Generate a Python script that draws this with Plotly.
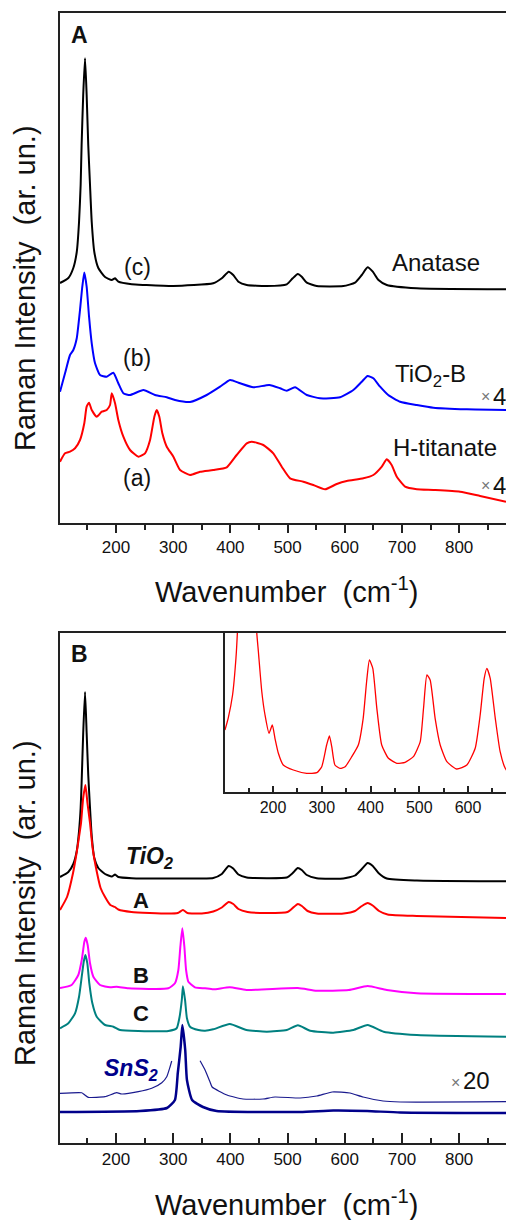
import plotly.graph_objects as go

W, H = 506, 1220
FONT = "Liberation Sans, Arial, Helvetica, sans-serif"

# ---------------- Panel A: anatase precursor and hydrothermal products ----------------
anatase_wn = [102, 116.6, 125.3, 131.3, 135.3, 138.1, 139.8, 142.6, 145.8, 148.6, 151.4, 154.5,
              157.5, 162, 169, 180.8, 192.5, 198.3, 204, 227.5, 250.7, 300, 370, 385, 397, 405,
              414, 428.6, 463.6, 498.6, 509, 517.8, 524.8, 533.6, 551, 597.6, 618, 629.8, 640,
              649, 659, 673.5, 726, 882]
anatase_int = [240, 245, 255, 271, 301, 338, 378, 428, 464.7, 428, 378, 338,
               301, 271, 255, 246, 243, 244.7, 241.3, 238.7, 238, 237, 239.7, 244.7, 251.3, 248,
               241.3, 238, 237, 238.7, 244.7, 249, 246.3, 240.3, 237, 237, 240.3, 248, 255.7,
               251.3, 243, 238, 234.7, 233.7]

tio2b_wn = [102, 110.8, 119.5, 125.3, 131.3, 137, 141, 144.5, 148.6, 152.8, 157.5, 163.3, 172,
            183.7, 195.3, 204, 212.8, 224.5, 247.8, 268.2, 288.7, 303.2, 329.4, 358.6, 382, 399.4,
            417, 440, 468, 487, 498.6, 513, 533.6, 556.8, 591.8, 615, 629.8, 640, 650, 661.8,
            676, 696.8, 726, 755, 813.5, 882]
tio2b_int = [131.3, 149.7, 168, 173, 184.7, 213, 236.3, 250.5, 236.3, 206.3, 179.7, 159.7, 148,
             146.3, 150.3, 139.7, 129.7, 128, 133, 128, 125.7, 123, 121, 128, 136.3, 143,
             139.7, 135.7, 138, 134.7, 132.3, 135.7, 128, 124.7, 125.7, 133, 141.3, 147, 144.7, 136.3,
             128, 121.3, 118, 115.3, 113.7, 113]

htit_wn = [102, 110.8, 119.5, 128.3, 137, 144.5, 148.6, 152.8, 157.5, 166.2, 175, 183.7, 189.5,
           192.5, 198.3, 204, 212.8, 224.5, 239, 250.7, 259.5, 267, 271.2, 275.7, 281, 288.7,
           300.3, 312, 329.4, 347, 370, 393.6, 411, 428.6, 437.3, 457.6, 475, 489.8, 504.4,
           527.6, 545, 565.6, 586, 603.5, 632.6, 650, 664.8, 673.5, 682, 691, 705.5, 726, 755,
           801.7, 836.7, 882]
htit_int = [61.3, 69.7, 71.3, 74.7, 83, 99.7, 116.3, 120.3, 113, 106.3, 111.3, 113, 118,
            129.7, 119.7, 103, 86.3, 73, 66.3, 69.7, 83, 106.3, 113, 106.3, 89.7, 76.3,
            66.3, 53, 48, 51.3, 53, 55.7, 68, 79.7, 81.3, 78, 69.7, 56.3, 44.7,
            41.3, 38, 33.7, 39, 42, 44.7, 48, 56.3, 63.7, 58, 46.3, 36.3, 33.7, 33,
            31.3, 27, 21.3]

# ---------------- Panel B: TiO2 reference, samples A-C and SnS2 ----------------
tio2_wn = [102, 116.6, 125.3, 131.3, 135.3, 138.1, 139.8, 142.6, 145.8, 148.6, 151.4, 154.5,
           157.5, 162, 169, 180.8, 192.5, 198.3, 204, 227.5, 300, 370, 385, 397, 405, 414,
           428.6, 463.6, 498.6, 509, 517.8, 524.8, 533.6, 551, 597.6, 618, 629.8, 640, 649,
           659, 673.5, 726, 882]
tio2_int = [266, 271, 279, 292, 312, 335, 360, 410, 451, 410, 368, 335,
            307, 285, 275, 269, 266.5, 268.5, 266, 264.8, 264.5, 265, 269, 277, 274.5, 268.5,
            265.5, 264.8, 265.5, 270, 275, 273, 268, 264.8, 264.5, 267.5, 274, 280, 277,
            270, 264.5, 262.5, 261.7]

sampA_wn = [102, 114.3, 124.8, 131, 135, 138.8, 142.5, 146.5, 150, 154.5, 159, 166.8, 173,
            180.8, 190, 198, 204, 227, 290, 308, 317, 325, 350, 370, 385, 397, 405, 414, 430,
            465, 500, 509, 518, 525, 535, 551, 598, 618, 630, 640, 650, 660, 675, 726, 882]
sampA_int = [233, 246, 270, 290, 305, 320, 345, 358, 340, 320, 295, 270, 255,
             246, 238, 236, 233.5, 231, 229.5, 230, 233, 230, 229.5, 231.5, 235.5, 241, 239, 234, 231,
             230, 231, 235, 239, 237, 232, 229.5, 229.5, 232, 237, 240, 237, 232, 228.5, 227, 225]

sampB_wn = [102, 122.3, 134, 140, 144.6, 147, 150.4, 154.5, 160.3, 172, 189.5, 201, 221.5,
            291.5, 303, 309, 312.5, 316, 319.5, 322.5, 326.5, 338, 355.7, 370, 399, 428, 518,
            551, 607, 640, 673.5, 726, 882]
sampB_int = [155, 158, 168, 183, 201.3, 205.3, 198, 179.7, 166.3, 158, 155.7, 156.3, 154.7,
             154.7, 159.7, 173, 196.3, 214.7, 196.3, 173, 161.3, 155.7, 154.7, 153.7, 155.7, 153, 155,
             152.3, 153, 157, 153, 149.7, 149]

sampC_wn = [102, 116.6, 128.3, 135.3, 140, 143.5, 146.3, 149.8, 153.3, 158.6, 166.2, 180.8,
            195.3, 207, 239, 291.5, 306, 310.7, 315, 317, 320.7, 324, 329.4, 344, 355.7, 370,
            399, 428, 463.6, 498.6, 518, 539.5, 580, 615, 640, 668, 726, 882]
sampC_int = [114.7, 119.7, 129.7, 146.3, 166.3, 181.3, 188, 179.7, 159.7, 139.7, 126.3, 118,
             116.3, 113, 112, 112, 114.7, 124.7, 143, 156.7, 143, 124.7, 116.3, 113, 112.3, 113.7,
             119, 113, 111.3, 113, 117.7, 112.3, 110.3, 113, 118, 111.3, 108, 106.3]

sns2_wn = [102, 242, 289, 303, 308, 313, 316, 321, 324, 333, 352, 376, 522, 580, 639, 697, 882]
sns2_int = [31, 32, 35, 43, 70, 96, 118, 93, 63, 43, 36, 32, 31, 32.5, 32, 30.5, 30]

# SnS2 magnified x20 (the saturated main band is left out)
sns2x20_wn = [102, 140, 144, 151.4, 180.8, 201, 210, 239, 262.4, 280, 288.7, 294.5, 297.4,
              None, 347, 355.7, 364.4, 368, 394, 422, 457, 478, 522, 551, 578, 609, 632, 667,
              697, 882]
sns2x20_int = [49.7, 50.3, 48.7, 45.7, 46.3, 50.3, 49, 51.3, 54.7, 60.3, 66.3, 76.3, 82,
               None, 82.3, 73, 61, 56, 48, 44, 44, 46, 45, 47, 51, 50, 46, 42,
               41, 41.3]

# Inset: sample A, low-intensity region
inset_wn = [101.4, 108, 117, 124, 127, 135, 146, 157, 166.5, 170, 177, 183.6, 191.8, 198.6, 204,
            211, 221, 241.7, 269, 290, 300, 310, 315.7, 320.5, 327, 337.6, 348, 361.6, 375,
            385, 392, 397.8, 404.7, 413, 423, 436.8, 454, 471, 488, 502, 508.8, 515.7, 522.4,
            532.6, 543, 556.7, 577, 597.7, 614.8, 625, 633.3, 638.8, 645.6, 656, 666, 676.4, 690]
inset_int = [62, 73.7, 97, 134, 160.3, 260, 420, 260, 160.3, 140.3, 100.3, 77, 58.7, 67, 53.7,
             38.7, 27, 22, 18.7, 19.3, 25.3, 47, 56, 45.3, 27, 23.7, 25.3, 35.3, 47,
             73.7, 110.3, 132, 123.7, 83.7, 47, 33.7, 28.7, 29.7, 35.3, 50.3, 83.7, 117, 112,
             73.7, 47, 30.3, 23, 27, 43.7, 77, 113.7, 123.7, 113.7, 73.7, 40.3, 23.7, 15]

XTICKS = [200, 300, 400, 500, 600, 700, 800]
INSET_TICKS = [200, 300, 400, 500, 600]


def xp(v):
    return v / W


def yp(v):
    return 1 - v / H


fig = go.Figure()


def spectrum(x, y, color, width, xa, ya):
    fig.add_trace(go.Scatter(x=x, y=y, mode="lines", xaxis=xa, yaxis=ya,
                             line=dict(color=color, width=width, shape="spline", smoothing=0.5),
                             connectgaps=False, showlegend=False, hoverinfo="skip"))


spectrum(anatase_wn, anatase_int, "#000000", 2, "x", "y")
spectrum(tio2b_wn, tio2b_int, "#0000ff", 2, "x", "y")
spectrum(htit_wn, htit_int, "#ff0000", 2, "x", "y")

spectrum(tio2_wn, tio2_int, "#000000", 2, "x2", "y2")
spectrum(sampA_wn, sampA_int, "#ff0000", 2, "x2", "y2")
spectrum(sampB_wn, sampB_int, "#ff00ff", 2, "x2", "y2")
spectrum(sampC_wn, sampC_int, "#008080", 2, "x2", "y2")
spectrum(sns2x20_wn, sns2x20_int, "#1a1a8e", 1.2, "x2", "y2")
spectrum(sns2_wn, sns2_int, "#00008b", 2.5, "x2", "y2")

spectrum(inset_wn, inset_int, "#ff0000", 1.3, "x3", "y3")

AX = "#222222"
tickfont = dict(family=FONT, size=17, color="#111111")


def xaxis(domain, ticks, ticklen, minorlen, rng, tickvals, font):
    return dict(domain=domain, range=rng, showline=True, linecolor=AX, linewidth=1.5,
                mirror=True, ticks=ticks, ticklen=ticklen, tickwidth=1.5, tickcolor=AX,
                tickvals=tickvals, ticktext=[str(t) for t in tickvals],
                minor=dict(tickvals=[t + 50 for t in [100] + tickvals], ticks=ticks,
                           ticklen=minorlen, tickwidth=1.5, tickcolor=AX),
                showgrid=False, zeroline=False, tickfont=font, fixedrange=True)


def yaxis(domain, rng, anchor):
    return dict(domain=domain, range=rng, showline=True, linecolor=AX, linewidth=1.5,
                ticks="", showticklabels=False, showgrid=False, zeroline=False,
                anchor=anchor, fixedrange=True)


fig.update_layout(
    width=W, height=H, margin=dict(l=0, r=0, t=0, b=0),
    paper_bgcolor="white", plot_bgcolor="white",
    font=dict(family=FONT, color="#111111"),
    xaxis=dict(**xaxis([xp(60), 1], "outside", 8, 5, [102, 882], XTICKS, tickfont), anchor="y"),
    yaxis=yaxis([yp(523), yp(13)], [0, 510], "x"),
    xaxis2=dict(**xaxis([xp(60), 1], "inside", 10, 5, [102, 882], XTICKS, tickfont), anchor="y2"),
    yaxis2=yaxis([yp(1143), yp(633)], [0, 510], "x2"),
    xaxis3=dict(**xaxis([xp(225), 1], "inside", 6, 4, [101.5, 678], INSET_TICKS,
                        dict(family=FONT, size=16, color="#111111")), anchor="y3"),
    yaxis3=yaxis([yp(792), yp(633)], [0, 159], "x3"),
)

anns = []


def label(text, x, y, size=24, xanchor="left", color="#111111", angle=0):
    anns.append(dict(text=text, x=xp(x), y=yp(y), xref="paper", yref="paper",
                     xanchor=xanchor, yanchor="middle", showarrow=False, textangle=angle,
                     font=dict(family=FONT, size=size, color=color)))


TIMES = "\u00d7"
GRAY = "#777777"

# Panel A
label("<b>A</b>", 79, 35, 23, "center")
label("(c)", 137, 267, 23, "center")
label("Anatase", 390, 262, 24)
label("(b)", 137, 358, 23, "center")
label("TiO<sub>2</sub>-B", 393, 376, 24)
label(TIMES, 485, 397, 16, "center", GRAY)
label("4", 491, 397, 24)
label("H-titanate", 391, 447, 24)
label("(a)", 137, 478, 23, "center")
label(TIMES, 485, 486, 16, "center", GRAY)
label("4", 491, 486, 24)
label("Raman Intensity\u00a0\u00a0(ar. un.)", 25, 288, 29, "center", angle=-90)
label("Wavenumber\u00a0\u00a0(cm<sup>-1</sup>)", 287, 590, 29, "center")

# Panel B
label("<b>B</b>", 79, 654, 23, "center")
label("<b><i>TiO<sub>2</sub></i></b>", 124, 857, 23)
label("<b>A</b>", 141, 900, 22, "center")
label("<b>B</b>", 141, 975, 22, "center")
label("<b>C</b>", 141, 1013, 22, "center")
label("<b><i>SnS<sub>2</sub></i></b>", 102, 1069, 23, color="#00008b")
label(TIMES, 455, 1082, 16, "center", GRAY)
label("20", 461, 1080, 24)
label("Raman Intensity\u00a0\u00a0(ar. un.)", 25, 903, 29, "center", angle=-90)
label("Wavenumber\u00a0\u00a0(cm<sup>-1</sup>)", 287, 1203, 29, "center")

fig.update_layout(annotations=anns)
fig.write_html("out.html")
